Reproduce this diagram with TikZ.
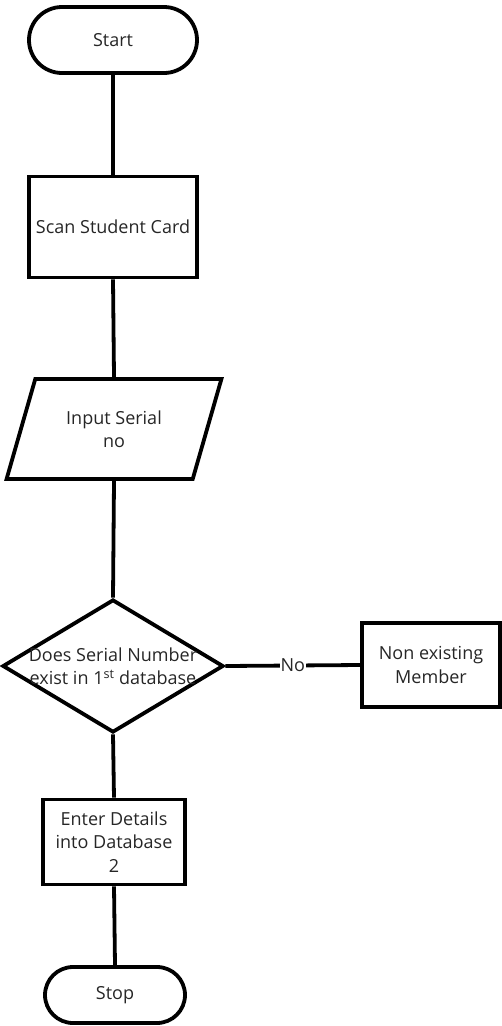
\documentclass[tikz,border=0pt]{standalone}
\usepackage{fontspec}
\setmainfont{Open Sans}
\usetikzlibrary{shapes.geometric}
\begin{document}
\begin{tikzpicture}[x=1pt,y=-1pt,
  every node/.style={font=\fontsize{18}{23.5}\selectfont, text=black!85, align=center},
  term/.style={draw=black, line width=3.8pt, rectangle, rounded corners=#1, inner sep=0pt},
  proc/.style={draw=black, line width=3.8pt, rectangle, inner sep=0pt},
  io/.style={draw=black, line width=3.8pt, trapezium, trapezium left angle=65, trapezium right angle=115,
     trapezium stretches=true, inner sep=0pt},
  dec/.style={draw=black, line width=3.8pt, diamond, inner sep=0pt},
  conn/.style={line width=3.8pt, black}]
\useasboundingbox (0,0) rectangle (502,1026);
\node[term=33pt, minimum width=168pt, minimum height=66pt] (start) at (113,40) {Start};
\node[proc, minimum width=168pt, minimum height=101pt] (scan) at (113,227) {Scan Student Card};
\node[io, minimum width=215pt, minimum height=100pt] (input) at (114,429) {Input Serial\\no};
\node[dec, minimum width=221pt, minimum height=133pt] (dec) at (113,666) {};
\node (dect) at (113,666) {Does Serial Number\\exist in 1\textsuperscript{st} database};
\node[proc, minimum width=138pt, minimum height=84pt] (non) at (431,665) {Non existing\\Member};
\node[proc, minimum width=142pt, minimum height=85pt] (enter) at (114,842) {Enter Details\\into Database\\2};
\node[term=28pt, minimum width=140pt, minimum height=56pt] (stop) at (115,995) {Stop};
\draw[conn] (start.south) -- (scan.north);
\draw[conn] (scan.south) -- (input.north);
\draw[conn] (input.south) -- (dec.north);
\draw[conn] (dec.east) -- node[fill=white, inner sep=1pt] {No} (non.west);
\draw[conn] (dec.south) -- (enter.north);
\draw[conn] (enter.south) -- (stop.north);
\end{tikzpicture}
\end{document}
